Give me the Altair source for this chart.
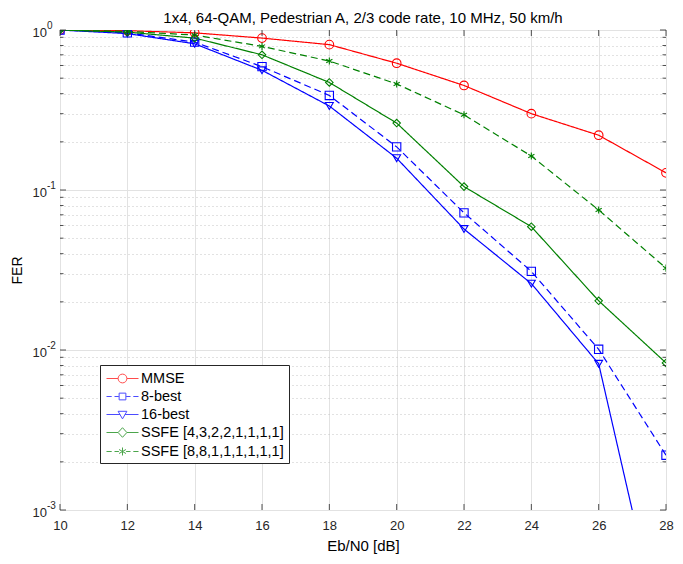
import altair as alt
import pandas as pd
import math

# ---- data ----
snr = [10, 12, 14, 16, 18, 20, 22, 24, 26, 28]
series_names = ["MMSE", "8-best", "16-best", "SSFE [4,3,2,2,1,1,1,1]", "SSFE [8,8,1,1,1,1,1,1]"]
mmse = [1.0, 0.99, 0.96, 0.89, 0.81, 0.62, 0.45, 0.30, 0.22, 0.128]
best8 = [1.0, 0.96, 0.84, 0.59, 0.39, 0.186, 0.072, 0.031, 0.0101, 0.0022]
best16 = [1.0, 0.95, 0.82, 0.56, 0.335, 0.158, 0.057, 0.026, 0.0082, 0.00012]
ssfe1 = [1.0, 0.97, 0.89, 0.70, 0.47, 0.262, 0.105, 0.059, 0.0203, 0.0083]
ssfe2 = [1.0, 0.98, 0.93, 0.79, 0.64, 0.46, 0.295, 0.163, 0.075, 0.0325]
x_ticks = [10, 12, 14, 16, 18, 20, 22, 24, 26, 28]
y_ticks = [m * 10.0 ** k for k in (-3, -2, -1) for m in range(1, 10)] + [1.0]
decades = [1.0, 0.1, 0.01, 0.001]
decade_exp = ["0", "-1", "-2", "-3"]

colors = ["#ff0000", "#0000ff", "#0000ff", "#008000", "#008000"]
dashes = [[1, 0], [7, 4], [1, 0], [1, 0], [7, 4]]

ast = "M0,-1L0,1M-0.87,-0.5L0.87,0.5M-0.87,0.5L0.87,-0.5"
point_shapes = ["circle", "square", "triangle-down", "diamond", ast]
point_sizes = [75, 50, 70, 75, 55]

dashed = "M-2.0,0L-1.35,0M-1.0,0L-0.45,0M0.45,0L1.0,0M1.35,0L2.0,0"
legend_paths = [
    "M-2.0,0L-0.55,0M0.55,0L2.0,0M0.55,0A0.55,0.55 0 1,1 -0.55,0A0.55,0.55 0 1,1 0.55,0",
    dashed + "M-0.42,-0.42L0.42,-0.42L0.42,0.42L-0.42,0.42Z",
    "M-2.0,0L-0.3,0M0.3,0L2.0,0M-0.55,-0.4L0.55,-0.4L0,0.55Z",
    "M-2.0,0L-0.55,0M0.55,0L2.0,0M0,-0.6L0.55,0L0,0.6L-0.55,0Z",
    dashed + "M0,-0.5L0,0.5M-0.43,-0.25L0.43,0.25M-0.43,0.25L0.43,-0.25",
]

rows = []
for name, vals in zip(series_names, [mmse, best8, best16, ssfe1, ssfe2]):
    for x, v in zip(snr, vals):
        rows.append({"snr": x, "fer": v, "series": name})
df = pd.DataFrame(rows)

W, H = 606, 480
FONT = "Liberation Sans"
xscale = alt.Scale(domain=[10, 28], nice=False, zero=False)
yscale = alt.Scale(type="log", domain=[0.001, 1], nice=False)
cscale = alt.Scale(domain=series_names, range=colors)

major_test = "abs(log(datum.value)/LN10 - round(log(datum.value)/LN10)) < 1e-6"

x_axis = alt.Axis(
    values=x_ticks, title="Eb/N0 [dB]", grid=True, gridColor="#e2e2e2", gridWidth=1,
    ticks=False, labelPadding=9, labelFontSize=13, labelFont=FONT, labelColor="#262626",
    labelFlush=False,
    titleFont=FONT, titleFontSize=15, titleFontWeight="normal", titleColor="#000000",
    titleX=W / 2, titleY=35, titleBaseline="middle", domain=False,
)
y_axis = alt.Axis(
    values=y_ticks, title="FER", grid=True, labels=False,
    gridColor={"condition": {"test": major_test, "value": "#e2e2e2"}, "value": "#c4c4c4"},
    gridDash={"condition": {"test": major_test, "value": []}, "value": [1, 3]},
    ticks=False,
    titleFont=FONT, titleFontSize=14, titleFontWeight="normal", titleColor="#000000",
    titleX=-43, titleY=H / 2, titleAngle=270, titleBaseline="middle", titleAlign="center",
    domain=False,
)

base = alt.Chart(df)

lines = base.mark_line(strokeWidth=1.2, clip=True).encode(
    x=alt.X("snr:Q", scale=xscale, axis=x_axis),
    y=alt.Y("fer:Q", scale=yscale, axis=y_axis),
    color=alt.Color("series:N", scale=cscale, legend=None),
    strokeDash=alt.StrokeDash("series:N", scale=alt.Scale(domain=series_names, range=dashes), legend=None),
    detail="series:N",
)

points = base.mark_point(filled=False, strokeWidth=1.1, clip=True, opacity=1).encode(
    x=alt.X("snr:Q", scale=xscale, axis=x_axis),
    y=alt.Y("fer:Q", scale=yscale, axis=y_axis),
    color=alt.Color("series:N", scale=cscale, legend=None),
    shape=alt.Shape("series:N", scale=alt.Scale(domain=series_names, range=point_shapes), legend=None),
    size=alt.Size("series:N", scale=alt.Scale(domain=series_names, range=point_sizes), legend=None),
)

leg = alt.Legend(
    title=None, orient="none", legendX=40, legendY=335, symbolSize=256, symbolStrokeWidth=1,
    labelFont=FONT, labelFontSize=14.5, labelColor="#000000", strokeColor="#262626",
    fillColor="#ffffff", padding=5, symbolOffset=9, labelOffset=10, rowPadding=3,
    symbolType="circle",
)
legend_layer = base.mark_point(filled=False, strokeWidth=1).encode(
    x=alt.X("snr:Q", scale=xscale, axis=x_axis),
    y=alt.Y("fer:Q", scale=yscale, axis=y_axis),
    color=alt.Color("series:N", scale=cscale, legend=leg),
    shape=alt.Shape("series:N", scale=alt.Scale(domain=series_names, range=legend_paths), legend=leg),
).transform_filter("false")

# y tick labels as 10 with superscript exponent
dec_df = pd.DataFrame({"fer": decades, "base": ["10"] * 4, "exp": decade_exp})
ylab_base = alt.Chart(dec_df).mark_text(
    align="right", baseline="middle", font=FONT, fontSize=13, color="#262626", dy=3
).encode(y=alt.Y("fer:Q", scale=yscale, axis=y_axis), x=alt.value(-13), text="base:N")
ylab_exp = alt.Chart(dec_df).mark_text(
    align="left", baseline="middle", font=FONT, fontSize=10, color="#262626", dy=-4
).encode(y=alt.Y("fer:Q", scale=yscale, axis=y_axis), x=alt.value(-13), text="exp:N")

# inward tick marks (MATLAB box style)
xt = pd.DataFrame({"snr": x_ticks})
yt = pd.DataFrame({"fer": y_ticks})
yt["major"] = [abs(round(math.log10(v)) - math.log10(v)) < 1e-6 for v in y_ticks]
tick_style = dict(color="#262626", strokeWidth=0.8)
xt_bot = alt.Chart(xt).mark_rule(**tick_style).encode(
    x=alt.X("snr:Q", scale=xscale, axis=x_axis), y=alt.value(H), y2=alt.value(H - 6))
xt_top = alt.Chart(xt).mark_rule(**tick_style).encode(
    x=alt.X("snr:Q", scale=xscale, axis=x_axis), y=alt.value(0), y2=alt.value(6))
yt_maj = yt[yt["major"]]
yt_min = yt[~yt["major"]]
yl_maj = alt.Chart(yt_maj).mark_rule(**tick_style).encode(
    y=alt.Y("fer:Q", scale=yscale, axis=y_axis), x=alt.value(0), x2=alt.value(6))
yr_maj = alt.Chart(yt_maj).mark_rule(**tick_style).encode(
    y=alt.Y("fer:Q", scale=yscale, axis=y_axis), x=alt.value(W), x2=alt.value(W - 6))
yl_min = alt.Chart(yt_min).mark_rule(**tick_style).encode(
    y=alt.Y("fer:Q", scale=yscale, axis=y_axis), x=alt.value(0), x2=alt.value(3.5))
yr_min = alt.Chart(yt_min).mark_rule(**tick_style).encode(
    y=alt.Y("fer:Q", scale=yscale, axis=y_axis), x=alt.value(W), x2=alt.value(W - 3.5))

chart = (
    alt.layer(lines, points, xt_bot, xt_top, yl_maj, yr_maj, yl_min, yr_min,
              ylab_base, ylab_exp, legend_layer)
    .resolve_scale(color="independent", shape="independent", size="independent", strokeDash="independent")
    .properties(
        width=W, height=H,
        title=alt.Title("1x4, 64-QAM, Pedestrian A, 2/3 code rate, 10 MHz, 50 km/h",
                        font=FONT, fontSize=15, fontWeight="normal", color="#000000",
                        anchor="middle", offset=0, dy=5),
        autosize=alt.AutoSizeParams(type="none"),
        padding={"left": 52, "top": 22, "right": 9, "bottom": 46},
    )
    .configure_view(stroke="#262626", strokeWidth=1)
    .configure(background="#ffffff")
)

chart.save("out.html", embed_options={"renderer": "svg", "actions": False})
